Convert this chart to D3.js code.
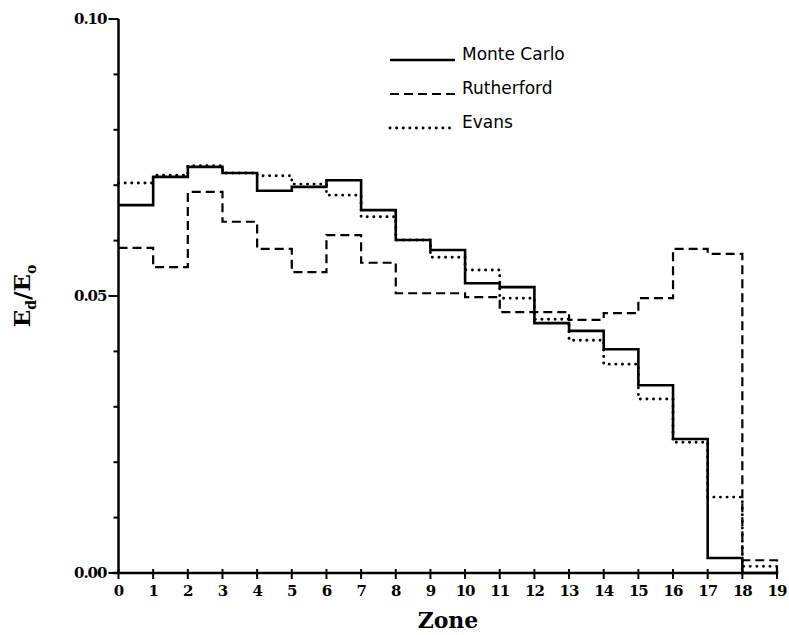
<!DOCTYPE html>
<html><head><meta charset="utf-8">
<script src="https://cdn.jsdelivr.net/npm/d3@7"></script>
<style>body{margin:0;background:#fff}svg{display:block}</style>
</head><body><svg id="c" width="789" height="635"></svg>
<script>
const zones = d3.range(0, 20);
const monteCarlo = [0.0664,0.0715,0.0733,0.0722,0.0690,0.0697,0.0709,0.0655,0.0601,0.0583,0.0523,0.0516,0.0451,0.0437,0.0404,0.0339,0.0242,0.0027,0.0];
const rutherford = [0.0587,0.0552,0.0688,0.0634,0.0585,0.0543,0.0610,0.0560,0.0505,0.0505,0.0498,0.0471,0.0471,0.0457,0.0469,0.0496,0.0585,0.0576,0.0023];
const evans      = [0.0704,0.0718,0.0735,0.0722,0.0717,0.0702,0.0682,0.0643,0.0601,0.0570,0.0547,0.0496,0.0458,0.0420,0.0377,0.0314,0.0236,0.0137,0.0012];
const yTickValues = [0.00,0.05,0.10];
const yTickLabels = ["0.00","0.05","0.10"];
const yMinorTicks = [0.01,0.02,0.03,0.04,0.06,0.07,0.08,0.09];
const seriesNames = ["Monte Carlo","Rutherford","Evans"];

const svg = d3.select("#c");
const x = d3.scaleLinear().domain([0,19]).range([118.5,777]);
const y = d3.scaleLinear().domain([0,0.10]).range([573,19]);

const serif = "'DejaVu Serif', 'Liberation Serif', serif";

// axes
const gy = svg.append("g").attr("transform",`translate(${x(0)},0)`);
gy.append("line").attr("y1",y(0)).attr("y2",y(0.10)).attr("stroke","#000").attr("stroke-width",2.5);
gy.selectAll(".maj").data(yTickValues).join("line")
  .attr("x1",-10).attr("x2",0).attr("y1",d=>y(d)).attr("y2",d=>y(d)).attr("stroke","#000").attr("stroke-width",2);
gy.selectAll(".min").data(yMinorTicks).join("line")
  .attr("x1",-5).attr("x2",0).attr("y1",d=>y(d)).attr("y2",d=>y(d)).attr("stroke","#000").attr("stroke-width",2);
gy.selectAll(".lab").data(yTickValues).join("text")
  .attr("x",-12).attr("y",d=>y(d)+5).attr("text-anchor","end")
  .attr("font-family",serif).attr("font-weight","bold").attr("font-size",15).attr("letter-spacing",-1)
  .text((d,i)=>yTickLabels[i]);

const gx = svg.append("g").attr("transform",`translate(0,${y(0)})`);
gx.append("line").attr("x1",x(0)-6).attr("x2",x(19)).attr("stroke","#000").attr("stroke-width",2.5);
gx.selectAll(".t").data(zones).join("line")
  .attr("x1",d=>x(d)).attr("x2",d=>x(d)).attr("y1",-4).attr("y2",6).attr("stroke","#000").attr("stroke-width",2);
gx.selectAll(".l").data(zones).join("text")
  .attr("x",d=>x(d)).attr("y",23).attr("text-anchor","middle")
  .attr("font-family",serif).attr("font-weight","bold").attr("font-size",15).attr("letter-spacing",-1)
  .text(d=>d);

svg.append("text").attr("x",448).attr("y",628).attr("text-anchor","middle")
  .attr("font-family",serif).attr("font-weight","bold").attr("font-size",22).text("Zone");

const yl = svg.append("text").attr("transform","translate(30,296) rotate(-90)").attr("text-anchor","middle")
  .attr("font-family",serif).attr("font-weight","bold").attr("font-size",23);
yl.append("tspan").text("E");
yl.append("tspan").attr("font-size",14).attr("dy",6).text("d");
yl.append("tspan").attr("dy",-6).text("/E");
yl.append("tspan").attr("font-size",14).attr("dy",6).text("o");

// step lines
function stepPts(vals){
  const pts = vals.map((v,i)=>[i,v]);
  pts.push([19, vals[vals.length-1]]);
  pts.push([19, 0]);
  return pts;
}
const line = d3.line().x(d=>x(d[0])).y(d=>y(d[1])).curve(d3.curveStepAfter);
const styles = [
  {data: monteCarlo, w: 2.6, dash: null, cap: "butt"},
  {data: rutherford, w: 2.2, dash: "9,5", cap: "butt"},
  {data: evans, w: 2.9, dash: "0.1,6.5", cap: "round"}
];
styles.forEach(s=>{
  svg.append("path").attr("d", line(stepPts(s.data))).attr("fill","none")
    .attr("stroke","#000").attr("stroke-width",s.w).attr("stroke-dasharray",s.dash)
    .attr("stroke-linecap",s.cap).attr("stroke-linejoin","miter");
});

// legend
const lg = svg.append("g");
seriesNames.forEach((n,i)=>{
  const ly = 52 + i*34;
  const s = styles[i];
  lg.append("line").attr("x1",390).attr("x2",455).attr("y1",ly+8).attr("y2",ly+8)
    .attr("stroke","#000").attr("stroke-width",s.w).attr("stroke-dasharray",s.dash).attr("stroke-linecap",s.cap);
  lg.append("text").attr("x",462).attr("y",ly+8).attr("font-family","'DejaVu Sans', sans-serif")
    .attr("font-size",17).text(n);
});
</script></body></html>
